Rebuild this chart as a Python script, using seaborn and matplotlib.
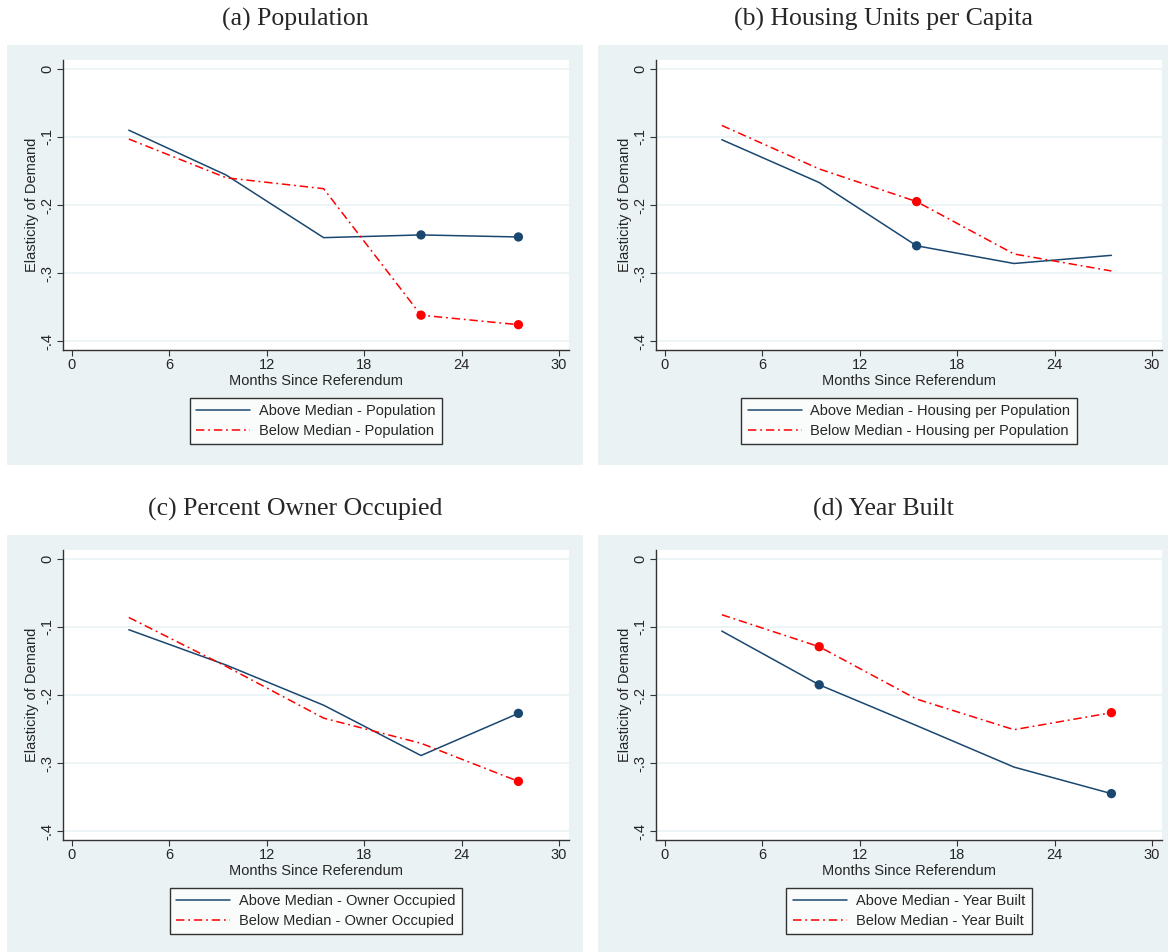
import numpy as np
import pandas as pd
import matplotlib.pyplot as plt
import seaborn as sns
from matplotlib.lines import Line2D
from matplotlib.patches import Rectangle

# data
months = [3.5, 9.5, 15.5, 21.5, 27.5]

titles = ['(a) Population', '(b) Housing Units per Capita',
          '(c) Percent Owner Occupied', '(d) Year Built']
groups = ['Population', 'Housing per Population', 'Owner Occupied', 'Year Built']

above_pop = [-0.090, -0.156, -0.248, -0.244, -0.247]
below_pop = [-0.103, -0.160, -0.176, -0.362, -0.376]
above_hous = [-0.104, -0.167, -0.260, -0.286, -0.274]
below_hous = [-0.083, -0.147, -0.195, -0.272, -0.297]
above_own = [-0.104, -0.156, -0.215, -0.289, -0.227]
below_own = [-0.086, -0.158, -0.234, -0.271, -0.327]
above_year = [-0.106, -0.185, -0.245, -0.306, -0.345]
below_year = [-0.082, -0.129, -0.206, -0.251, -0.226]

# points marked with a dot
above_pop_dot = [0, 0, 0, 1, 1]
below_pop_dot = [0, 0, 0, 1, 1]
above_hous_dot = [0, 0, 1, 0, 0]
below_hous_dot = [0, 0, 1, 0, 0]
above_own_dot = [0, 0, 0, 0, 1]
below_own_dot = [0, 0, 0, 0, 1]
above_year_dot = [0, 1, 0, 0, 1]
below_year_dot = [0, 1, 0, 0, 1]

y_ticks = [0, -0.1, -0.2, -0.3, -0.4]
y_ticklabels = ['0', '-.1', '-.2', '-.3', '-.4']
x_ticks = [0, 6, 12, 18, 24, 30]

panels = [
    (above_pop, below_pop, above_pop_dot, below_pop_dot),
    (above_hous, below_hous, above_hous_dot, below_hous_dot),
    (above_own, below_own, above_own_dot, below_own_dot),
    (above_year, below_year, above_year_dot, below_year_dot),
]

BG = '#EAF2F3'
NAVY = '#1A476F'
RED = '#FF0000'
DASHDOT = (0, (5.5, 2.5, 1.2, 2.5))

sns.set_theme(style='white')
plt.rcParams['font.family'] = ['Liberation Sans', 'DejaVu Sans']

W, H = 1170, 952
fig = plt.figure(figsize=(W / 100, H / 100), dpi=100)
fig.patch.set_facecolor('white')

# pixel boxes: background (l, t, r, b), axes (l, t, r, b)
layout = [
    ((7, 45, 583, 465), (63, 60, 569, 350)),
    ((598, 45, 1168, 465), (656, 60, 1162, 350)),
    ((7, 535, 583, 952), (63, 550, 569, 840)),
    ((598, 535, 1168, 952), (656, 550, 1162, 840)),
]

for i, (above, below, above_dot, below_dot) in enumerate(panels):
    (bl, bt, br, bb), (al, at, ar, ab) = layout[i]
    fig.add_artist(Rectangle((bl / W, 1 - bb / H), (br - bl) / W, (bb - bt) / H,
                             transform=fig.transFigure, facecolor=BG,
                             edgecolor='none', zorder=-5))
    fig.text((bl + br) / 2 / W, 1 - 19 / H if i < 2 else 1 - 509 / H, titles[i],
             ha='center', va='center', fontsize=18.5,
             family=['Liberation Serif', 'DejaVu Serif'])

    ax = fig.add_axes([al / W, 1 - ab / H, (ar - al) / W, (ab - at) / H])
    ax.set_facecolor('white')

    df = pd.DataFrame({'month': months * 2,
                       'elasticity': above + below,
                       'sig': above_dot + below_dot,
                       'group': ['above'] * 5 + ['below'] * 5})

    for y in y_ticks:
        ax.axhline(y, color=BG, lw=1.2, zorder=0)

    sns.lineplot(data=df[df['group'] == 'above'], x='month', y='elasticity',
                 color=NAVY, lw=1.1, errorbar=None, sort=False, ax=ax, legend=False)
    sns.lineplot(data=df[df['group'] == 'below'], x='month', y='elasticity',
                 color=RED, lw=1.1, linestyle=DASHDOT, errorbar=None, sort=False,
                 ax=ax, legend=False)
    dots = df[df['sig'] == 1]
    sns.scatterplot(data=dots, x='month', y='elasticity', hue='group',
                    palette={'above': NAVY, 'below': RED}, s=45, linewidth=0,
                    ax=ax, legend=False, zorder=3)

    ax.set_xlim(-0.554, 30.616)
    ax.set_ylim(-0.4132, 0.0132)
    ax.set_xticks(x_ticks)
    ax.set_yticks(y_ticks)
    ax.set_yticklabels(y_ticklabels, rotation=90, va='center')
    ax.tick_params(axis='both', which='major', direction='out', length=4,
                   width=0.8, color='#333333', labelsize=10.5, pad=2,
                   left=True, bottom=True)
    for side in ['top', 'right']:
        ax.spines[side].set_visible(False)
    for side in ['left', 'bottom']:
        ax.spines[side].set_color('#333333')
        ax.spines[side].set_linewidth(1.0)
    ax.set_xlabel('Months Since Referendum', fontsize=10.5, labelpad=1)
    ax.set_ylabel('Elasticity of Demand', fontsize=10.5, labelpad=1)

    handles = [Line2D([], [], color=NAVY, lw=1.1),
               Line2D([], [], color=RED, lw=1.1, linestyle=DASHDOT)]
    names = [f'Above Median - {groups[i]}', f'Below Median - {groups[i]}']
    cy = 421 if i < 2 else 911
    leg = ax.legend(handles, names, loc='center',
                    bbox_to_anchor=((al + ar) / 2 / W, 1 - cy / H),
                    bbox_transform=fig.transFigure, fontsize=10.5,
                    frameon=True, fancybox=False, handlelength=3.7,
                    handletextpad=0.6, labelspacing=0.4, borderpad=0.45)
    leg.get_frame().set_edgecolor('black')
    leg.get_frame().set_linewidth(1.0)

fig.savefig('out.png', dpi=100)
